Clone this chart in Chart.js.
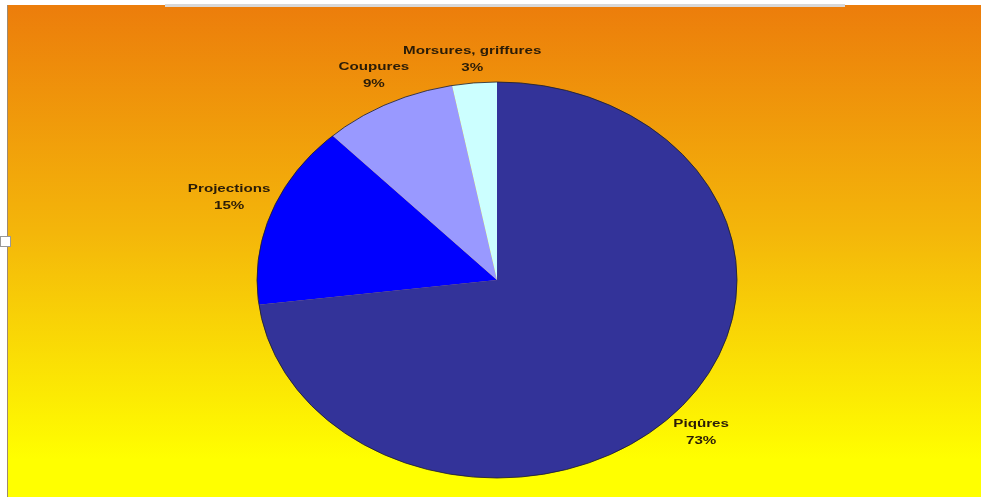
<!DOCTYPE html>
<html>
<head>
<meta charset="utf-8">
<script src="https://cdn.jsdelivr.net/npm/chart.js@4"></script>
<style>
  html, body { margin: 0; padding: 0; background: #fff; }
  #pieChart { display: block; }
</style>
</head>
<body>
<canvas id="pieChart" width="981" height="497"></canvas>
<script>
// Données du graphique
const categories = ["Piqûres", "Projections", "Coupures", "Morsures, griffures"];
const percentages = [73, 15, 9, 3];
const sliceColors = ["#333399", "#0000FF", "#9999FF", "#CCFFFF"];

// largeur / hauteur de l'ellipse (le camembert est aplati)
const stretchX = 240 / 198;
// le texte de l'image d'origine est étiré horizontalement
const textStretch = 1.38;

// Fond dégradé orange -> jaune, avec le cadre
const backgroundPlugin = {
  id: "fond",
  beforeDraw(chart) {
    const c = chart.ctx;
    c.save();
    c.fillStyle = "#ffffff";
    c.fillRect(0, 0, chart.width, chart.height);
    const grad = c.createLinearGradient(0, 5, 0, 460);
    grad.addColorStop(0, "#EC7D0B");
    grad.addColorStop(0.5, "#F4B60A");
    grad.addColorStop(1, "#FFFF00");
    c.fillStyle = grad;
    c.fillRect(8, 5, chart.width - 8, chart.height - 5);
    // bordure gauche
    c.fillStyle = "#a08a70";
    c.fillRect(7, 5, 1, chart.height - 5);
    // petite poignée à gauche
    c.fillStyle = "#ffffff";
    c.fillRect(0, 236, 11, 11);
    c.strokeStyle = "#999";
    c.lineWidth = 1;
    c.strokeRect(0.5, 236.5, 10, 10);
    // bord de la zone de titre en haut
    c.fillStyle = "#d8d8d8";
    c.fillRect(165, 4, 680, 3);
    c.restore();
  },
};

// Aplatir le camembert en ellipse
const ellipsePlugin = {
  id: "ellipse",
  beforeDatasetsDraw(chart) {
    const arc = chart.getDatasetMeta(0).data[0];
    const c = chart.ctx;
    c.save();
    c.translate(arc.x, arc.y);
    c.scale(stretchX, 1);
    c.translate(-arc.x, -arc.y);
  },
  afterDatasetsDraw(chart) {
    const arc = chart.getDatasetMeta(0).data[0];
    const c = chart.ctx;
    c.restore();
    // contour extérieur
    c.save();
    c.beginPath();
    c.ellipse(arc.x, arc.y, arc.outerRadius * stretchX, arc.outerRadius, 0, 0, Math.PI * 2);
    c.strokeStyle = "rgba(30,30,40,0.8)";
    c.lineWidth = 1;
    c.stroke();
    c.restore();
  },
};

// Étiquettes à l'extérieur des parts
const labelPlugin = {
  id: "etiquettes",
  afterDraw(chart) {
    const c = chart.ctx;
    const meta = chart.getDatasetMeta(0);
    c.save();
    c.font = "bold 11px 'Liberation Sans', Arial, sans-serif";
    c.fillStyle = "#2a1c08";
    c.textAlign = "center";
    c.textBaseline = "middle";
    meta.data.forEach((arc, i) => {
      const mid = (arc.startAngle + arc.endAngle) / 2;
      const dx = Math.cos(mid);
      const dy = Math.sin(mid);
      const rx = arc.outerRadius * stretchX;
      const ry = arc.outerRadius;
      const ex = arc.x + dx * rx;
      const ey = arc.y + dy * ry;
      const line1 = categories[i];
      const line2 = percentages[i] + "%";
      const w = textStretch * Math.max(c.measureText(line1).width, c.measureText(line2).width);
      const h = 34;
      const off = Math.abs(dx) * w / 2 + Math.abs(dy) * h / 2;
      const tx = ex + dx * off;
      const ty = ey + dy * off;
      c.save();
      c.translate(tx, ty);
      c.scale(textStretch, 1);
      c.fillText(line1, 0, -8.5);
      c.fillText(line2, 0, 8.5);
      c.restore();
    });
    c.restore();
  },
};

const ctx = document.getElementById("pieChart").getContext("2d");
const pieChart = new Chart(ctx, {
  type: "pie",
  data: {
    labels: categories,
    datasets: [
      {
        data: percentages,
        backgroundColor: sliceColors,
        borderWidth: 0,
      },
    ],
  },
  options: {
    responsive: false,
    animation: false,
    layout: {
      padding: { left: 299, right: 286, top: 82, bottom: 19 },
    },
    plugins: {
      legend: { display: false },
      tooltip: { enabled: false },
    },
  },
  plugins: [backgroundPlugin, ellipsePlugin, labelPlugin],
});
</script>
</body>
</html>
